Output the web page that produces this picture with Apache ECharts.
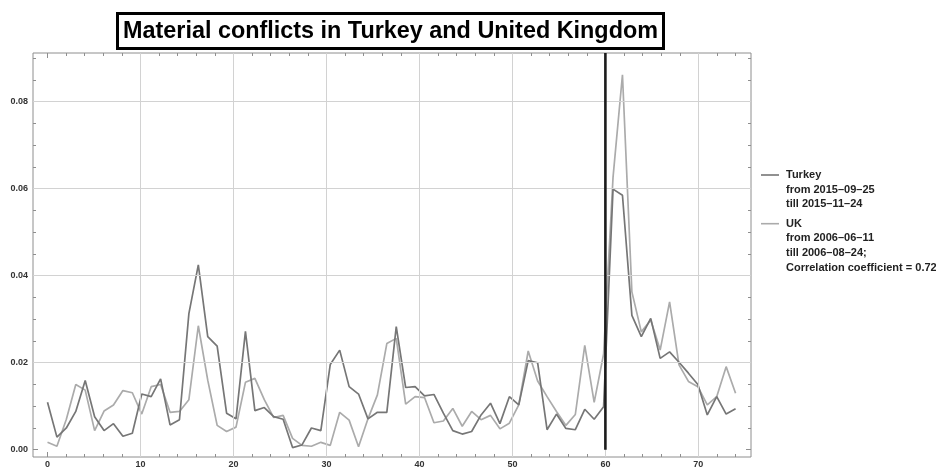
<!DOCTYPE html>
<html>
<head>
<meta charset="utf-8">
<title>Material conflicts in Turkey and United Kingdom</title>
<script src="https://cdn.jsdelivr.net/npm/echarts@6.0.0/dist/echarts.min.js"></script>
<style>
  html, body { margin: 0; padding: 0; background: #fff; }
  #chart { width: 936px; height: 469px; }
</style>
</head>
<body>
<div id="chart"></div>
<script>
// Daily share of material-conflict events, one value per day
const turkey = [
  0.0109, 0.0029, 0.0050, 0.0088, 0.0159, 0.0076, 0.0044, 0.0060, 0.0031, 0.0038,
  0.0128, 0.0122, 0.0163, 0.0057, 0.0069, 0.0313, 0.0425, 0.0260, 0.0238, 0.0084,
  0.0071, 0.0272, 0.0090, 0.0097, 0.0076, 0.0070, 0.0005, 0.0011, 0.0050, 0.0044,
  0.0196, 0.0229, 0.0145, 0.0128, 0.0071, 0.0086, 0.0086, 0.0283, 0.0143, 0.0145,
  0.0124, 0.0127, 0.0084, 0.0044, 0.0036, 0.0042, 0.0080, 0.0107, 0.0060, 0.0122,
  0.0103, 0.0205, 0.0200, 0.0046, 0.0082, 0.0049, 0.0046, 0.0093, 0.0070, 0.0099,
  0.0599, 0.0585, 0.0309, 0.0260, 0.0302, 0.0210, 0.0225, 0.0201, 0.0176, 0.0150,
  0.0080, 0.0122, 0.0082, 0.0094
];
const uk = [
  0.0017, 0.0008, 0.0070, 0.0150, 0.0137, 0.0044, 0.0089, 0.0103, 0.0136, 0.0131,
  0.0082, 0.0145, 0.0150, 0.0086, 0.0088, 0.0115, 0.0285, 0.0160, 0.0056, 0.0042,
  0.0052, 0.0155, 0.0164, 0.0115, 0.0074, 0.0079, 0.0026, 0.0010, 0.0008, 0.0017,
  0.0010, 0.0086, 0.0068, 0.0007, 0.0071, 0.0126, 0.0244, 0.0256, 0.0105, 0.0122,
  0.0120, 0.0062, 0.0066, 0.0095, 0.0054, 0.0088, 0.0069, 0.0079, 0.0048, 0.0061,
  0.0103, 0.0227, 0.0158, 0.0122, 0.0088, 0.0056, 0.0081, 0.0240, 0.0109, 0.0220,
  0.0626, 0.0862, 0.0363, 0.0271, 0.0298, 0.0229, 0.0340, 0.0195, 0.0157, 0.0145,
  0.0103, 0.0122, 0.0191, 0.0130
];

// Samples are spread evenly over this x range
const dataRange = [0, 74];
// Day on which the event marker is drawn
const eventX = 60;

const xTickLabels = [0, 10, 20, 30, 40, 50, 60, 70];
const yTickLabels = [0, 0.02, 0.04, 0.06, 0.08];
const xGridLines = [10, 20, 30, 40, 50, 60, 70];
const yGridLines = [0.02, 0.04, 0.06, 0.08];

const legendLines = {
  turkey: ['Turkey', 'from 2015–09–25', 'till 2015–11–24'],
  uk: ['UK', 'from 2006–06–11', 'till 2006–08–24;', 'Correlation coefficient = 0.72']
};

const X_MIN = -1.56, X_MAX = 75.66;
const Y_MIN = -0.00167, Y_MAX = 0.0912;

const FONT = 'Liberation Sans, Arial, sans-serif';
const FRAME = '#8e8e8e';
const TURKEY_COLOR = '#767676';
const UK_COLOR = '#ababab';

function toPairs(values) {
  const step = (dataRange[1] - dataRange[0]) / (values.length - 1);
  return values.map((v, i) => [dataRange[0] + i * step, v]);
}

function minorTicks(lo, hi, step, majors) {
  const out = [];
  for (let k = Math.round(lo / step); k * step <= hi + 1e-12; k++) {
    const v = +(k * step).toFixed(6);
    if (!majors.some(m => Math.abs(m - v) < 1e-9)) out.push(v);
  }
  return out;
}
const xMinor = minorTicks(0, 74, 2, xTickLabels);
const yMinor = minorTicks(0, 0.09, 0.005, yTickLabels);

const labelStyle = { fontFamily: FONT, fontWeight: 'bold', fontSize: 9, color: '#333' };

function xAxisDef(position, major, withLabels) {
  return {
    type: 'value', min: X_MIN, max: X_MAX, position: position,
    axisLine: { show: false, onZero: false },
    axisTick: {
      show: true, inside: true, length: major ? 5 : 3,
      customValues: major ? xTickLabels : xMinor,
      lineStyle: { color: FRAME, width: 1 }
    },
    axisLabel: withLabels
      ? Object.assign({ show: true, margin: 3, customValues: xTickLabels }, labelStyle)
      : { show: false },
    splitLine: { show: false }
  };
}
function yAxisDef(position, major, withLabels) {
  return {
    type: 'value', min: Y_MIN, max: Y_MAX, position: position,
    axisLine: { show: false, onZero: false },
    axisTick: {
      show: true, inside: true, length: major ? 5 : 3,
      customValues: major ? yTickLabels : yMinor,
      lineStyle: { color: FRAME, width: 1 }
    },
    axisLabel: withLabels
      ? Object.assign({ show: true, margin: 5, customValues: yTickLabels,
          formatter: v => v.toFixed(2) }, labelStyle)
      : { show: false },
    splitLine: { show: false }
  };
}

const legendText = { fontFamily: FONT, fontWeight: 'bold', fontSize: 11, fill: '#222' };
const legendGraphics = [];
function addLegendEntry(lines, color, y0) {
  legendGraphics.push({
    type: 'line', shape: { x1: 761, y1: y0, x2: 779, y2: y0 },
    style: { stroke: color, lineWidth: 1.6 }
  });
  lines.forEach((t, i) => {
    legendGraphics.push({
      type: 'text', x: 786, y: y0 + i * 14.7,
      style: Object.assign({ text: t, verticalAlign: 'middle', align: 'left' }, legendText)
    });
  });
}
addLegendEntry(legendLines.turkey, TURKEY_COLOR, 175);
addLegendEntry(legendLines.uk, UK_COLOR, 223.7);

const gridLineData = xGridLines.map(v => ({ xAxis: v }))
  .concat(yGridLines.map(v => ({ yAxis: v })));

const chart = echarts.init(document.getElementById('chart'), null, { renderer: 'canvas' });
chart.setOption({
  animation: false,
  backgroundColor: '#fff',
  title: {
    text: 'Material conflicts in Turkey and United Kingdom',
    left: 117, top: 13,
    padding: [7, 6, 6, 6],
    borderColor: '#000', borderWidth: 3,
    textStyle: { fontFamily: FONT, fontWeight: 'bold', fontSize: 23.4, color: '#000' }
  },
  grid: {
    left: 33, top: 53, width: 718, height: 406,
    show: true, borderColor: FRAME, borderWidth: 1, backgroundColor: 'transparent'
  },
  xAxis: [
    xAxisDef('bottom', true, true),
    xAxisDef('bottom', false, false),
    xAxisDef('top', true, false),
    xAxisDef('top', false, false)
  ],
  yAxis: [
    yAxisDef('left', true, true),
    yAxisDef('left', false, false),
    yAxisDef('right', true, false),
    yAxisDef('right', false, false)
  ],
  graphic: legendGraphics,
  series: [
    {
      name: 'grid', type: 'line', data: [], z: 1, silent: true,
      markLine: {
        silent: true, symbol: ['none', 'none'], label: { show: false },
        lineStyle: { type: 'solid', color: '#d2d2d2', width: 1 },
        emphasis: { disabled: true },
        data: gridLineData
      }
    },
    {
      name: 'Turkey', type: 'line', data: toPairs(turkey),
      showSymbol: false, z: 3,
      lineStyle: { color: TURKEY_COLOR, width: 1.7 },
      itemStyle: { color: TURKEY_COLOR }
    },
    {
      name: 'UK', type: 'line', data: toPairs(uk),
      showSymbol: false, z: 2,
      lineStyle: { color: UK_COLOR, width: 1.7 },
      itemStyle: { color: UK_COLOR }
    },
    {
      name: 'event', type: 'line', data: [[eventX, 0], [eventX, Y_MAX]],
      showSymbol: false, z: 5, silent: true,
      lineStyle: { color: '#1c1c1c', width: 2.6 }
    }
  ]
});
</script>
</body>
</html>
